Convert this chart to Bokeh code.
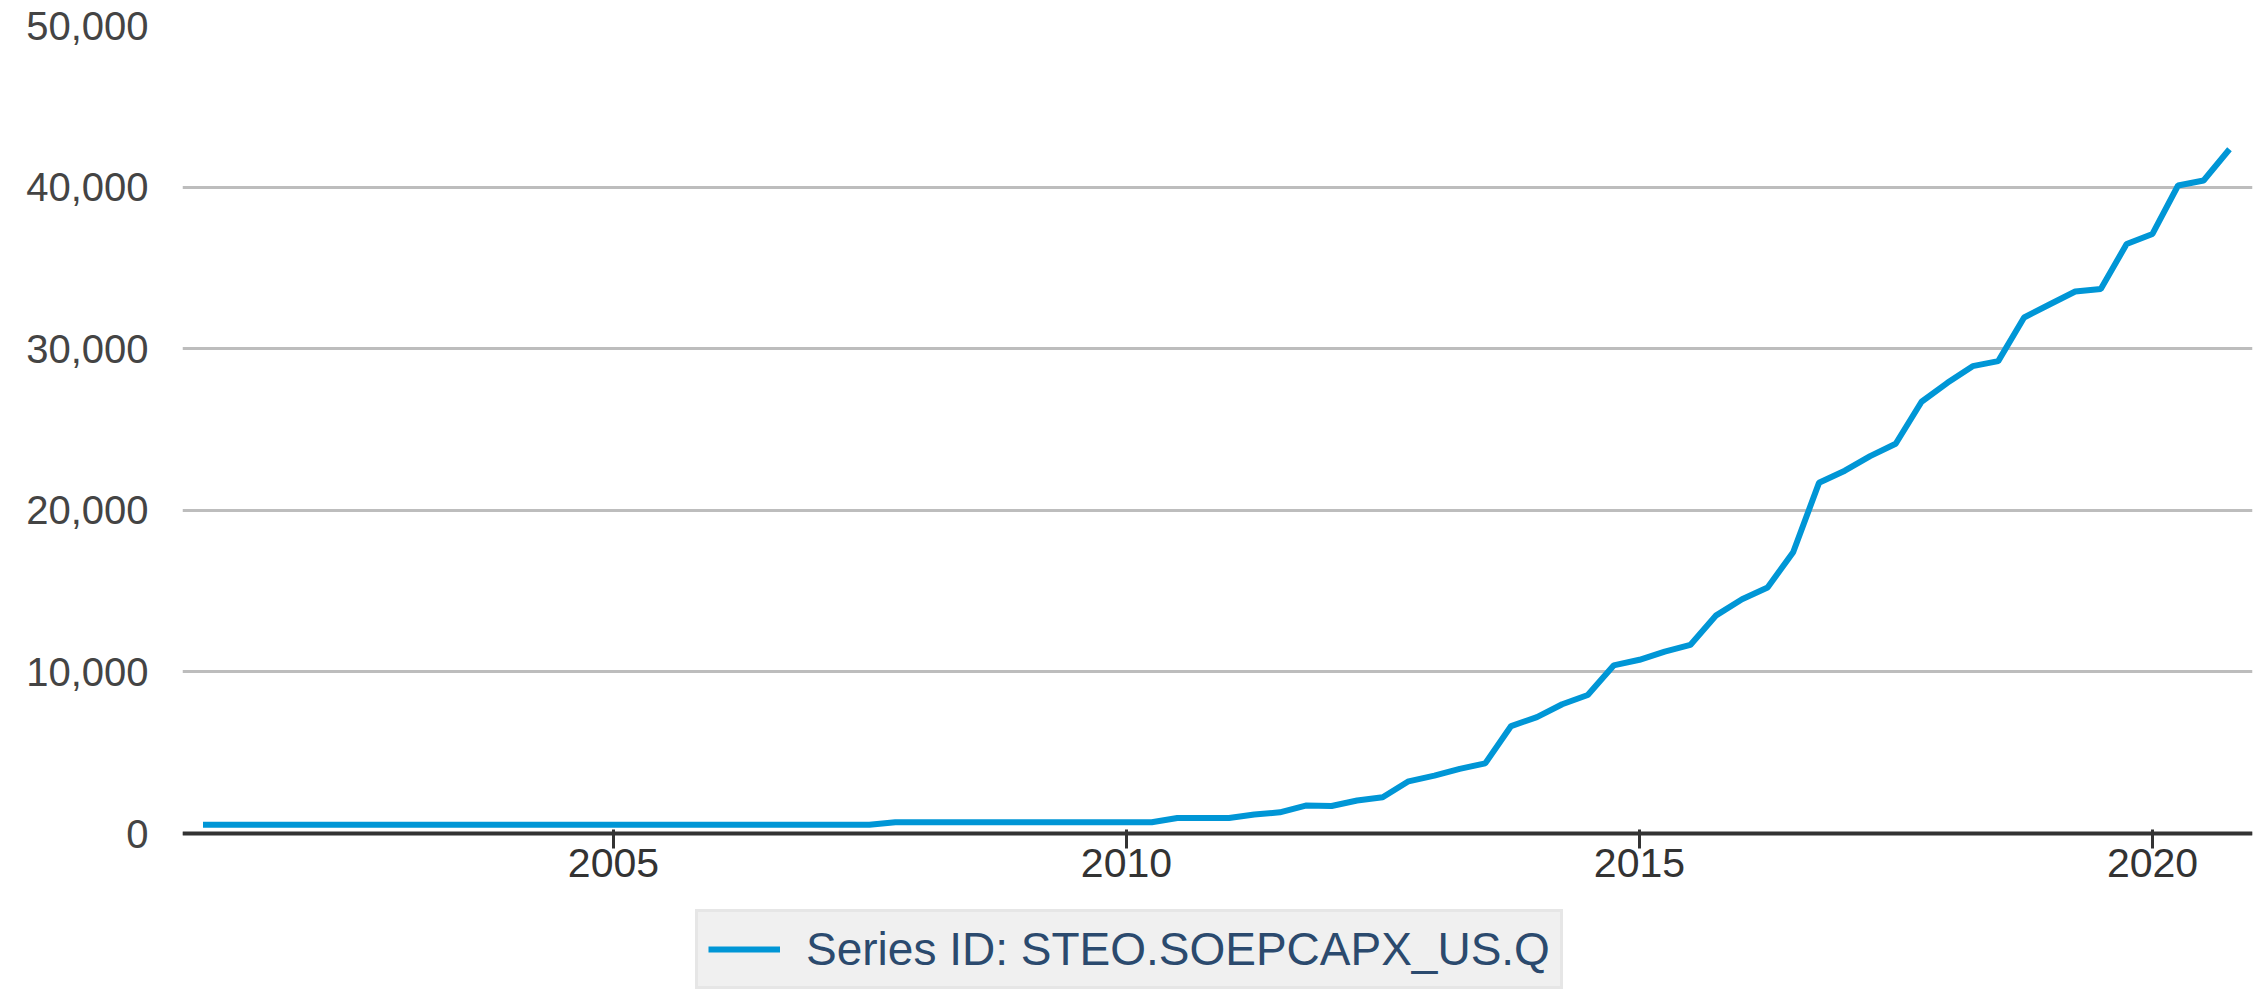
import pandas as pd
from datetime import datetime
from bokeh.plotting import figure
from bokeh.models import (Range1d, FixedTicker, DatetimeTickFormatter, NumeralTickFormatter,
                          Legend, LegendItem, ColumnDataSource)
from bokeh.embed import file_html
from bokeh.resources import INLINE

# ---- data (quarterly, 2001Q1 .. 2020Q4) ----
first_quarter = "2001-01-01"
capex = [
    540, 540, 540, 540,        # 2001
    540, 540, 540, 540,        # 2002
    540, 540, 540, 540,        # 2003
    540, 540, 540, 540,        # 2004
    540, 540, 540, 540,        # 2005
    540, 540, 540, 540,        # 2006
    540, 540, 540, 700,        # 2007
    700, 700, 700, 700,        # 2008
    700, 700, 700, 700,        # 2009
    700, 700, 960, 960,        # 2010
    960, 1170, 1310, 1730,     # 2011
    1700, 2040, 2240, 3230,    # 2012
    3580, 4000, 4340, 6650,    # 2013
    7200, 8000, 8570, 10400,   # 2014
    10750, 11260, 11670, 13500,  # 2015
    14500, 15220, 17400, 21700,  # 2016
    22450, 23350, 24120, 26720,  # 2017
    27890, 28920, 29230, 31930,  # 2018
    32750, 33540, 33690, 36480,  # 2019
    37100, 40100, 40410, 42340,  # 2020
]
series_label = "Series ID: STEO.SOEPCAPX_US.Q"
x_tick_years = [2005, 2010, 2015, 2020]
y_ticks = [0, 10000, 20000, 30000, 40000, 50000]

dates = pd.date_range(first_quarter, periods=len(capex), freq="QS")
src = ColumnDataSource(dict(date=dates, value=capex))

# frame spans the whole lower area (axis sits at value 0, legend below it)
p = figure(width=2260, height=991, x_axis_type="datetime",
           output_backend="svg", toolbar_location=None,
           x_range=Range1d(datetime(2000, 10, 20), datetime(2020, 12, 22)),
           y_range=Range1d(-9777, 50000),
           min_border_left=182, min_border_right=8,
           min_border_top=25, min_border_bottom=0)
p.outline_line_color = None
p.background_fill_color = "white"
p.border_fill_color = "white"

r = p.line("date", "value", source=src, line_color="#0096d6", line_width=6)

# x axis (drawn at value 0)
x_ticks_ms = [pd.Timestamp(f"{y}-01-01").timestamp() * 1000 for y in x_tick_years]
xa = p.xaxis[0]
xa.fixed_location = 0
xa.ticker = FixedTicker(ticks=x_ticks_ms)
xa.formatter = DatetimeTickFormatter(years="%Y", months="%Y", days="%Y", hours="%Y",
                                     minutes="%Y", seconds="%Y", milliseconds="%Y")
xa.axis_line_color = "#333333"
xa.axis_line_width = 4
xa.major_tick_line_color = "#333333"
xa.major_tick_line_width = 3
xa.major_tick_in = 4
xa.major_tick_out = 15
xa.minor_tick_line_color = None
xa.major_label_text_font = "Liberation Sans"
xa.major_label_text_font_size = "41px"
xa.major_label_text_color = "#333333"
xa.major_label_standoff = 0

# y axis
ya = p.yaxis[0]
ya.ticker = FixedTicker(ticks=y_ticks)
ya.formatter = NumeralTickFormatter(format="0,0")
ya.axis_line_color = None
ya.major_tick_line_color = None
ya.minor_tick_line_color = None
ya.major_label_text_font = "Liberation Sans"
ya.major_label_text_font_size = "40px"
ya.major_label_text_color = "#444444"
ya.major_label_standoff = 28

p.xgrid.visible = False
p.ygrid.ticker = FixedTicker(ticks=y_ticks)
p.ygrid.grid_line_color = "#bdbdbd"
p.ygrid.grid_line_width = 3

legend = Legend(items=[LegendItem(label=series_label, renderers=[r])],
                location=(513, 2), orientation="vertical",
                padding=10, margin=0, spacing=0,
                glyph_width=72, glyph_height=52, label_height=52, label_standoff=26,
                label_text_font="Liberation Sans", label_text_font_size="46px",
                label_text_color="#2b4a6e",
                background_fill_color="#f0f0f0", background_fill_alpha=1.0,
                border_line_color="#dcdcdc", border_line_width=3)
p.add_layout(legend, "center")

open("out.html", "w").write(file_html(p, INLINE))
